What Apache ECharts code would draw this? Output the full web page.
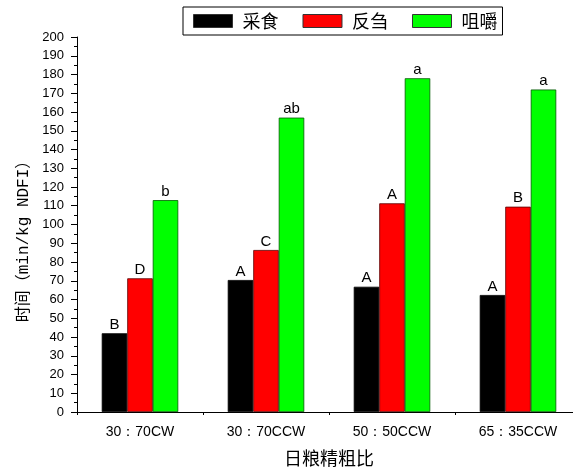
<!DOCTYPE html>
<html><head><meta charset="utf-8">
<script src="https://cdn.jsdelivr.net/npm/echarts@6/dist/echarts.min.js"></script>
<style>html,body{margin:0;padding:0;background:#fff;overflow:hidden;width:573px;height:472px}#c{width:581px;height:472px}</style>
</head><body><div id="c"></div>
<script>
const categories = ['30：70CW', '30：70CCW', '50：50CCW', '65：35CCW'];
const seriesNames = ['采食', '反刍', '咀嚼'];
const eating = [42, 70.4, 66.8, 62.4];
const rumination = [71.3, 86.4, 111.3, 109.5];
const chewing = [113, 157, 178, 172];
const eatingLetters = ['B', 'A', 'A', 'A'];
const ruminationLetters = ['D', 'C', 'A', 'B'];
const chewingLetters = ['b', 'ab', 'a', 'a'];
const yTicks = {min: 0, max: 200, interval: 10};

const CJK = '"Noto Sans CJK SC", sans-serif';
const LAT = '"Liberation Sans", Arial, sans-serif';
const MONO = '"Liberation Mono", "Noto Sans CJK SC", monospace';

function mk(name, vals, letters, color, border) {
  return {
    name, type: 'bar', data: vals, barWidth: 25.5, barGap: '0%',
    itemStyle: {color, borderColor: border, borderWidth: 0.8},
    label: {show: true, position: 'top', distance: 1, color: '#000',
      fontFamily: LAT, fontSize: 15,
      formatter: p => letters[p.dataIndex]},
    emphasis: {disabled: true}
  };
}

const chart = echarts.init(document.getElementById('c'), null, {renderer: 'canvas'});
chart.setOption({
  animation: false,
  backgroundColor: '#fff',
  legend: {
    left: 183, top: 7,
    padding: [5, 5, 5, 10],
    itemWidth: 39, itemHeight: 13, itemGap: 24,
    borderColor: '#000', borderWidth: 1,
    textStyle: {fontFamily: CJK, fontSize: 18, lineHeight: 18, color: '#000', padding: [0, 0, 0, 5]},
    icon: 'rect',
    data: seriesNames.map(n => ({name: n, itemStyle: {borderColor: '#333', borderWidth: 1}}))
  },
  grid: {left: 77, top: 37, bottom: 60, right: 0, containLabel: false},
  xAxis: [{
    type: 'category', data: categories,
    name: '日粮精粗比', nameLocation: 'middle', nameGap: 37,
    nameTextStyle: {fontFamily: CJK, fontSize: 18, color: '#000'},
    axisLine: {lineStyle: {color: '#000', width: 1}},
    axisTick: {alignWithLabel: true, length: 5, lineStyle: {color: '#000'}},
    axisLabel: {fontFamily: LAT, fontSize: 14, color: '#000', margin: 13}
  }, {
    type: 'category', data: categories, position: 'bottom',
    axisLine: {show: false},
    axisTick: {show: true, length: 3, lineStyle: {color: '#000'}},
    axisLabel: {show: false}
  }],
  yAxis: {
    type: 'value', min: yTicks.min, max: yTicks.max, interval: yTicks.interval,
    name: '时间（min/kg NDFI）', nameLocation: 'middle', nameGap: 44,
    nameTextStyle: {fontFamily: MONO, fontSize: 16, color: '#000', padding: [0, 0, 0, -26]},
    axisLine: {show: true, lineStyle: {color: '#000', width: 1}},
    axisTick: {show: true, length: 6, lineStyle: {color: '#000'}},
    minorTick: {show: true, splitNumber: 2, length: 3, lineStyle: {color: '#000'}},
    splitLine: {show: false},
    axisLabel: {fontFamily: LAT, fontSize: 13, color: '#000', margin: 13}
  },
  series: [
    mk(seriesNames[0], eating, eatingLetters, '#000000', '#000'),
    mk(seriesNames[1], rumination, ruminationLetters, '#ff0000', '#5a0000'),
    mk(seriesNames[2], chewing, chewingLetters, '#00ff00', '#005a00')
  ]
});
</script></body></html>
